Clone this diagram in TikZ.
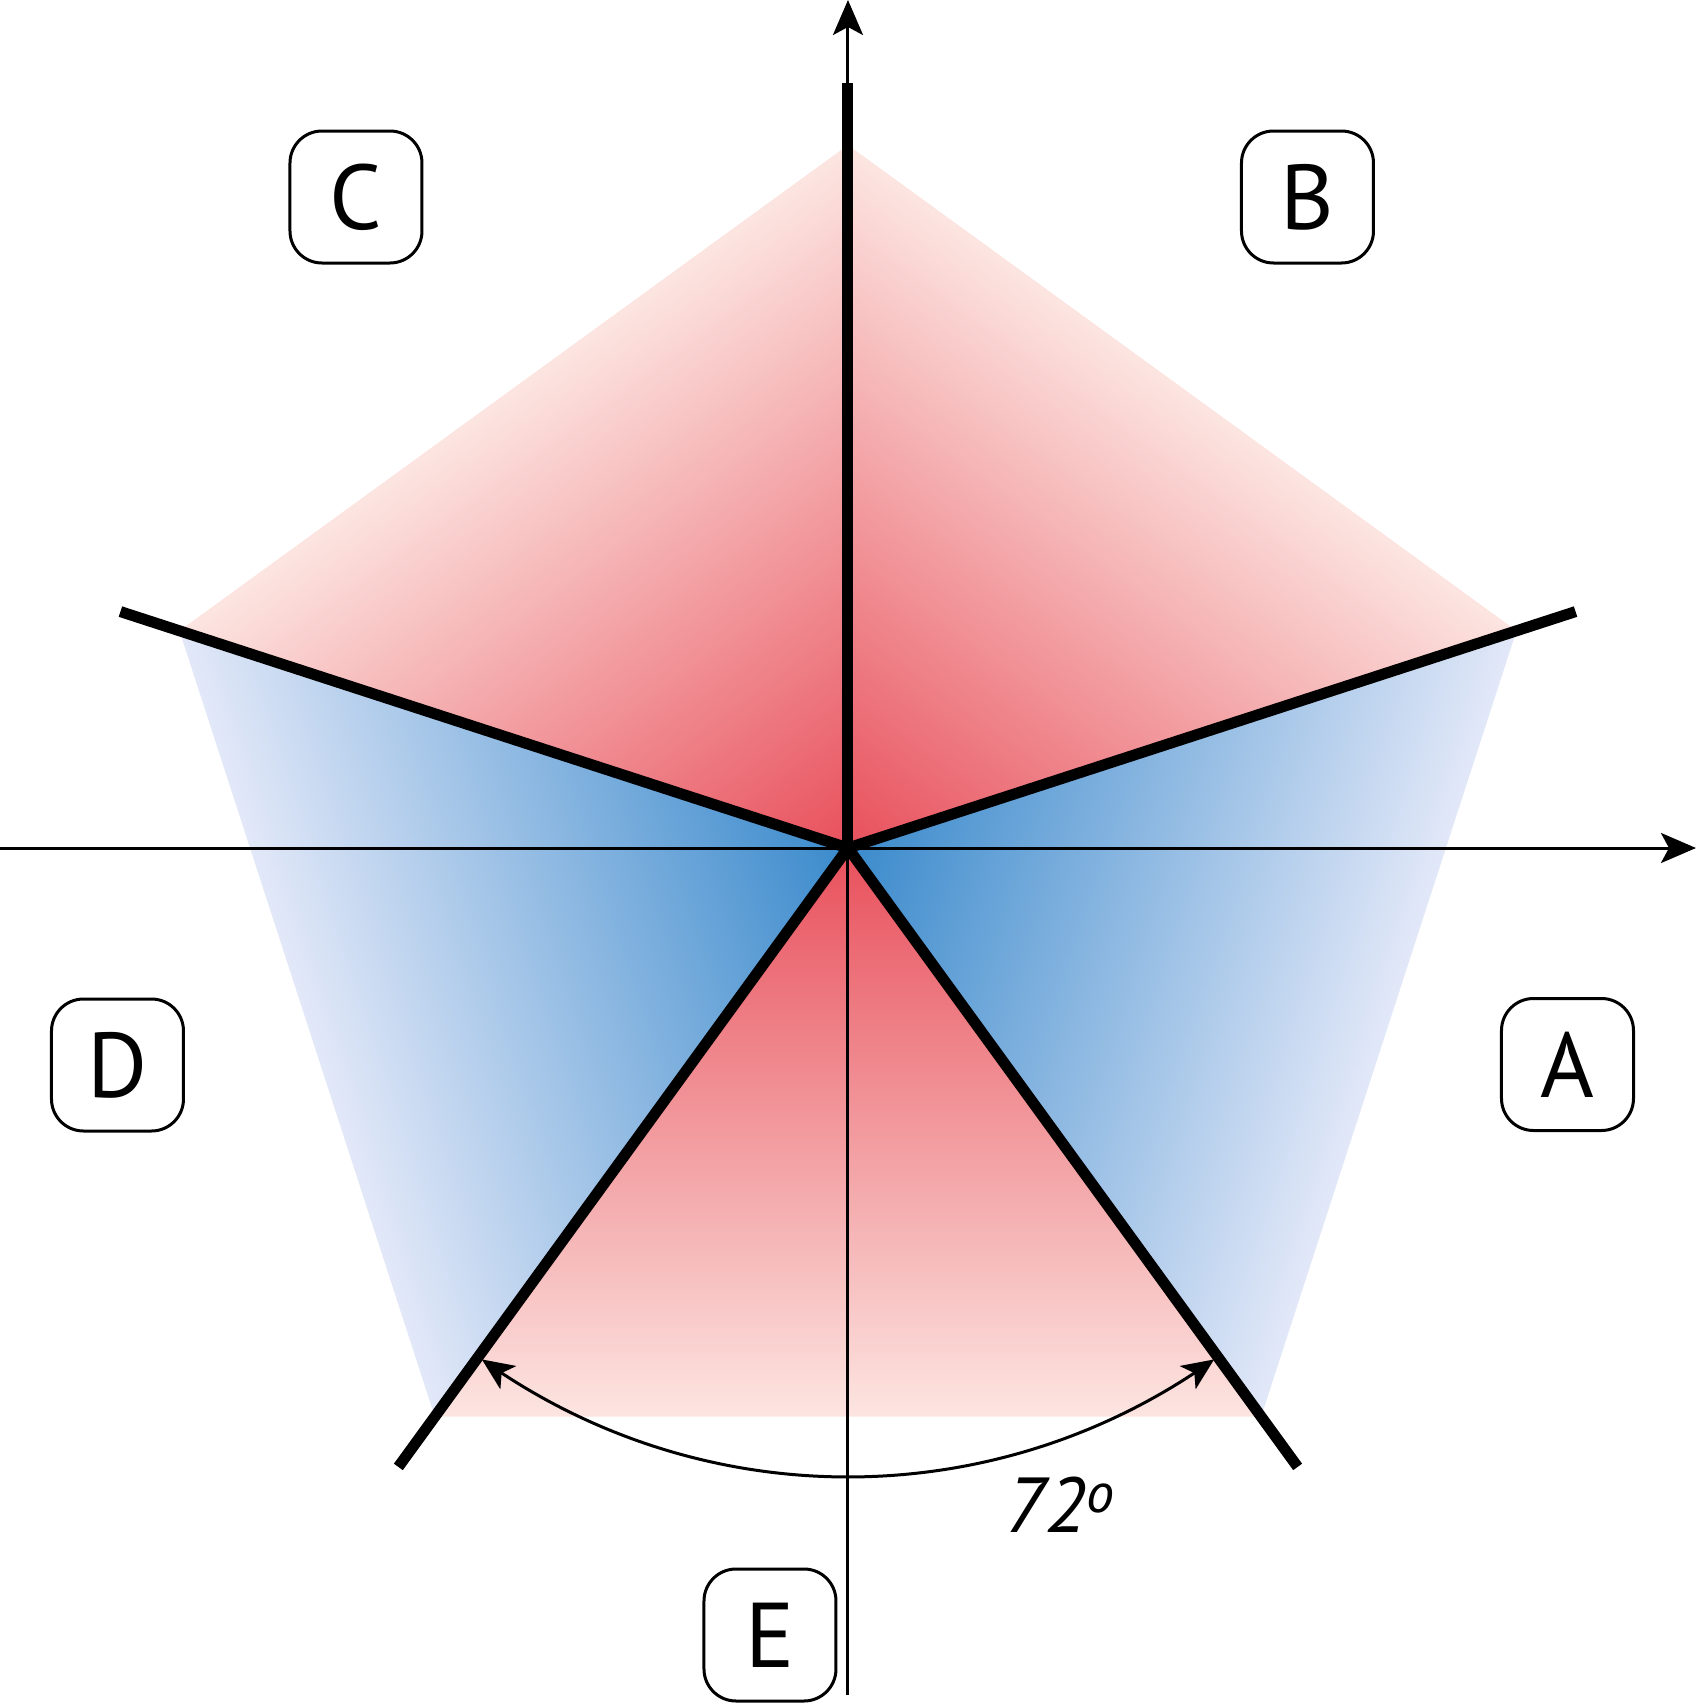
\documentclass[tikz,border=0pt]{standalone}
\usepackage{fontspec}
\setmainfont{PT Sans}
\usetikzlibrary{arrows.meta,bending}
\definecolor{redin}{RGB}{232,80,92}
\definecolor{redout}{RGB}{252,229,225}
\definecolor{bluein}{RGB}{58,138,204}
\definecolor{blueout}{RGB}{226,232,248}
\tikzset{
  lbl/.style={draw, line width=1.5pt, rounded corners=16pt, minimum width=66pt,
    minimum height=66pt, inner sep=0pt, fill=white, font=\fontsize{46}{46}\selectfont},
  axisline/.style={line width=1.5pt, -{Stealth[length=17.5pt,width=15pt,inset=4pt]}},
  ray/.style={line width=5.5pt},
  anglearc/.style={line width=1.5pt,
    {Stealth[length=16pt,width=14pt,inset=4pt,flex=1]}-{Stealth[length=16pt,width=14pt,inset=4pt,flex=1]}},
}
\begin{document}
\begin{tikzpicture}[x=0.5pt,y=0.5pt]
\useasboundingbox (-848,-857) rectangle (848,848);
% shaded sectors of the pentagon
\foreach \a/\ci/\co in {54/redin/redout, 126/redin/redout, -90/redin/redout,
                        -18/bluein/blueout, 198/bluein/blueout}{
  \begin{scope}[transform canvas={rotate=\a}]
    \shade[left color=\ci, right color=\co] (0,0) -- (568.7,413.2) -- (568.7,-413.2) -- cycle;
  \end{scope}
}
% coordinates
\coordinate (O) at (0,0);
\coordinate (xl) at (-848,0);
\coordinate (xr) at (848,0);
\coordinate (yb) at (0,-847);
\coordinate (yt) at (0,848);
\coordinate (r1) at (90:765);
\coordinate (r2) at (18:765);
\coordinate (r3) at (162:765);
\coordinate (r4) at (-54:765);
\coordinate (r5) at (-126:765);
\coordinate (arcL) at (-125.6:629);
% axes
\draw[axisline] (xl) -- (xr);
\draw[axisline] (yb) -- (yt);
% thick rays
\draw[ray] (O) -- (r1);
\draw[ray] (O) -- (r2);
\draw[ray] (O) -- (r3);
\draw[ray] (O) -- (r4);
\draw[ray] (O) -- (r5);
% angle arc
\draw[anglearc] (arcL) arc[start angle=-125.6, end angle=-54.4, radius=629];
\node[anchor=base west, inner sep=0pt, font=\fontsize{39}{39}\selectfont\itshape] (deg) at (157,-684)
  {72\raisebox{10pt}{\fontsize{28}{28}\selectfont\itshape o}};
% labels
\node[lbl] (A) at (719.5,-216.5) {A};
\node[lbl] (B) at (459.5,651) {B};
\node[lbl] (C) at (-492,651) {C};
\node[lbl] (D) at (-730.5,-217) {D};
\node[lbl] (E) at (-78,-787) {E};
\end{tikzpicture}
\end{document}
